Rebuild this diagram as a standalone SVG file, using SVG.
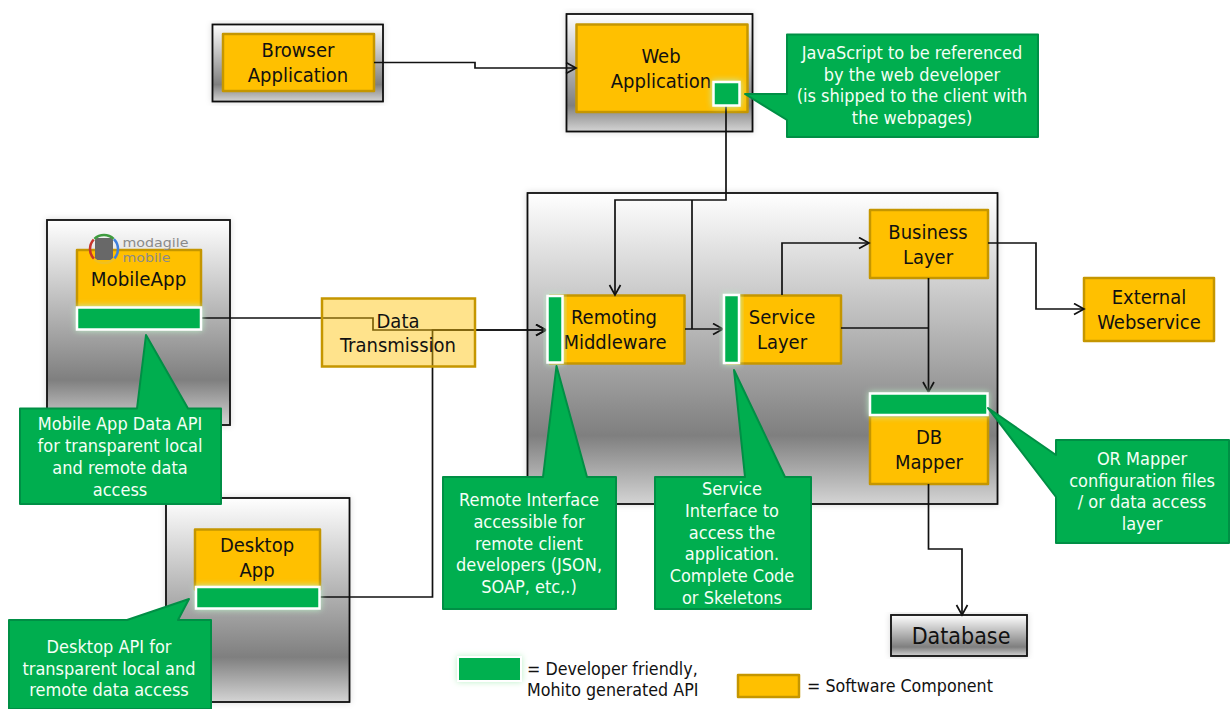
<svg xmlns="http://www.w3.org/2000/svg" width="1232" height="709" viewBox="0 0 1232 709">
<style>
text{font-family:"DejaVu Sans Condensed","DejaVu Sans",sans-serif;font-stretch:condensed;text-anchor:middle;fill:#111}
.c{fill:#ffc000;stroke:#c59600;stroke-width:2.500;stroke-linejoin:round}
.t{fill:#f4fff6;font-size:18px}
.n{font-size:20px}
.k{fill:url(#g);stroke:#111;stroke-width:1.800;filter:url(#s)}
.a{fill:#00b050;stroke:#fff;stroke-width:2.500;filter:url(#gl)}
.b{fill:#00ae4f;stroke:#008f45;stroke-width:2;stroke-linejoin:round}
.l{fill:none;stroke:#111;stroke-width:1.700}
.g{font-size:12.800px;text-anchor:start;fill:#8a8a8a}
.s{font-size:17.700px;text-anchor:start}
.r{fill:none;stroke-width:2.500;stroke-dasharray:21 67}
</style>
<defs>
<linearGradient id="g" x1="0" y1="0" x2="0" y2="1"><stop offset="0" stop-color="#fff"/><stop offset=".78" stop-color="#7f7f7f"/><stop offset="1" stop-color="#d4d4d4"/></linearGradient>
<filter id="s" x="-5%" y="-5%" width="110%" height="110%"><feDropShadow dx="0" dy="0" stdDeviation="3" flood-color="#000" flood-opacity=".15"/></filter>
<filter id="gl" x="-30%" y="-40%" width="160%" height="180%"><feDropShadow dx="0" dy="0" stdDeviation="3" flood-color="#b9f0c6" flood-opacity="1"/></filter>
<marker id="m" markerWidth="14" markerHeight="14" refX="11" refY="6.500" orient="auto" markerUnits="userSpaceOnUse"><path d="M1 1L11 6.500L1 12" fill="none" stroke="#111" stroke-width="1.700"/></marker>
</defs>
<g id="containers">
<rect id="browser-box" class="k" x="212.500" y="24.500" width="170.500" height="77"/>
<rect id="web-box" class="k" x="566.500" y="14" width="186" height="117.500"/>
<rect id="mobile-box" class="k" x="47" y="220" width="183" height="205"/>
<rect id="desktop-box" class="k" x="166" y="498" width="183.500" height="204"/>
<rect id="server-box" class="k" x="527.500" y="193" width="470" height="311"/>
</g>
<g id="browser"><rect class="c" x="223" y="34" width="151" height="57"/><text class="n" x="298" y="57">Browser</text><text class="n" x="298" y="82">Application</text></g>
<g id="web"><rect class="c" x="576.500" y="24.500" width="171" height="87.500"/><text class="n" x="661" y="63">Web</text><text class="n" x="661" y="88">Application</text></g>
<g id="mobile"><rect class="c" x="77" y="250" width="124" height="58"/><text class="n" x="138.500" y="286" style="font-size:20.300px">MobileApp</text>
<rect x="95" y="238" width="18" height="22" rx="2" fill="#686868"/>
<g transform="rotate(-45 104 249)"><circle class="r" cx="104" cy="249" r="14" stroke="#3f7fdc"/><circle class="r" cx="104" cy="249" r="14" stroke="#f0c020" stroke-dashoffset="-22"/><circle class="r" cx="104" cy="249" r="14" stroke="#c8352b" stroke-dashoffset="-44"/><circle class="r" cx="104" cy="249" r="14" stroke="#3f9b3f" stroke-dashoffset="-66"/></g>
<text class="g" x="122.500" y="246.500" textLength="66" lengthAdjust="spacingAndGlyphs">modagile</text><text class="g" x="122.500" y="261.500" textLength="48" lengthAdjust="spacingAndGlyphs">mobile</text></g>
<g id="desktop"><rect class="c" x="195" y="529.500" width="125" height="60"/><text class="n" x="257" y="552">Desktop</text><text class="n" x="257" y="577">App</text></g>
<g id="remoting"><rect class="c" x="550" y="295.500" width="134.500" height="68"/><text class="n" x="614" y="324">Remoting</text><text class="n" x="615" y="349">Middleware</text></g>
<g id="service"><rect class="c" x="727" y="295.500" width="114" height="68"/><text class="n" x="782" y="324">Service</text><text class="n" x="782" y="349">Layer</text></g>
<g id="business"><rect class="c" x="870" y="210" width="118" height="68"/><text class="n" x="928" y="239">Business</text><text class="n" x="928" y="264">Layer</text></g>
<g id="dbmapper"><rect class="c" x="870" y="416" width="118" height="68"/><text class="n" x="929" y="444">DB</text><text class="n" x="929" y="469">Mapper</text></g>
<g id="external"><rect class="c" x="1084" y="278" width="130" height="63"/><text class="n" x="1149" y="304">External</text><text class="n" x="1149" y="329">Webservice</text></g>
<g id="database"><rect class="k" x="891" y="615" width="136" height="41"/><text class="n" x="961" y="644" style="font-size:23px">Database</text></g>
<g id="connectors">
<path class="l" d="M374 62.500H475V68H576" marker-end="url(#m)"/>
<path class="l" d="M726 106V200H615V295" marker-end="url(#m)"/>
<path class="l" d="M692 200V329"/>
<path class="l" d="M685 329H723" marker-end="url(#m)"/>
<path class="l" d="M202 318H373V330H546" marker-end="url(#m)"/>
<path class="l" d="M320 597H432.500V330H546" marker-end="url(#m)"/>
<path class="l" d="M782 295V243H869" marker-end="url(#m)"/>
<path class="l" d="M841 328H928.500"/>
<path class="l" d="M928.500 278V392" marker-end="url(#m)"/>
<path class="l" d="M988 243H1036V309H1084" marker-end="url(#m)"/>
<path class="l" d="M928.500 484V549H962V615" marker-end="url(#m)"/>
</g>
<g id="transmission"><rect x="322" y="298.500" width="153" height="68" fill="#ffc000" fill-opacity=".45" stroke="#c59600" stroke-width="2.500"/><text class="n" x="398" y="328">Data</text><text class="n" x="398" y="352">Transmission</text></g>
<g id="api-web"><rect class="a" x="713.500" y="82" width="26" height="23.500"/></g>
<g id="api-mobile"><rect class="a" x="77" y="307.500" width="124" height="22"/></g>
<g id="api-desktop"><rect class="a" x="196" y="587" width="123.500" height="21.500"/></g>
<g id="api-remoting"><rect class="a" x="547.500" y="296" width="15" height="66.500"/></g>
<g id="api-service"><rect class="a" x="724" y="295" width="15" height="68"/></g>
<g id="api-db"><rect class="a" x="870" y="393.500" width="117.500" height="21.500"/></g>
<g id="note-js"><path class="b" d="M787 34.500H1038V137H787V120L745 94H787Z"/><text class="t" x="912" y="59">JavaScript to be referenced</text><text class="t" x="912" y="81">by the web developer</text><text class="t" x="912" y="102">(is shipped to the client with</text><text class="t" x="912" y="124">the webpages)</text></g>
<g id="note-mobile"><path class="b" d="M20 408.500H137L146 335L188 408.500H221V504H20Z"/><text class="t" x="120" y="430">Mobile App Data API</text><text class="t" x="120" y="452">for transparent local</text><text class="t" x="120" y="474">and remote data</text><text class="t" x="120" y="496">access</text></g>
<g id="note-desktop"><path class="b" d="M9 620H127L189 599L178 620H211V709H9Z"/><text class="t" x="109" y="653">Desktop API for</text><text class="t" x="109" y="675">transparent local and</text><text class="t" x="109" y="696">remote data access</text></g>
<g id="note-remote"><path class="b" d="M443 477H543L556.500 366L587 477H616V609H443Z"/><text class="t" x="529" y="506">Remote Interface</text><text class="t" x="529" y="528">accessible for</text><text class="t" x="529" y="550">remote client</text><text class="t" x="529" y="571">developers (JSON,</text><text class="t" x="529" y="593">SOAP, etc,.)</text></g>
<g id="note-service"><path class="b" d="M655 477H745L734 370L785 477H811V609H655Z"/><text class="t" x="732" y="495">Service</text><text class="t" x="732" y="517">Interface to</text><text class="t" x="732" y="539">access the</text><text class="t" x="732" y="560">application.</text><text class="t" x="732" y="582">Complete Code</text><text class="t" x="732" y="604">or Skeletons</text></g>
<g id="note-or"><path class="b" d="M1056 440H1229V543H1056V497L988 408L1056 455Z"/><text class="t" x="1142" y="465">OR Mapper</text><text class="t" x="1142" y="487">configuration files</text><text class="t" x="1142" y="508">/ or data access</text><text class="t" x="1142" y="530">layer</text></g>
<g id="legend">
<rect x="458" y="657" width="63" height="24" fill="#00b050" stroke="#fff" stroke-width="2" filter="url(#gl)"/>
<text class="s" x="527" y="675">= Developer friendly,</text>
<text class="s" x="527" y="696">Mohito generated API</text>
<rect class="c" x="738" y="675" width="61" height="22"/>
<text class="s" x="807" y="692">= Software Component</text>
</g>
</svg>
